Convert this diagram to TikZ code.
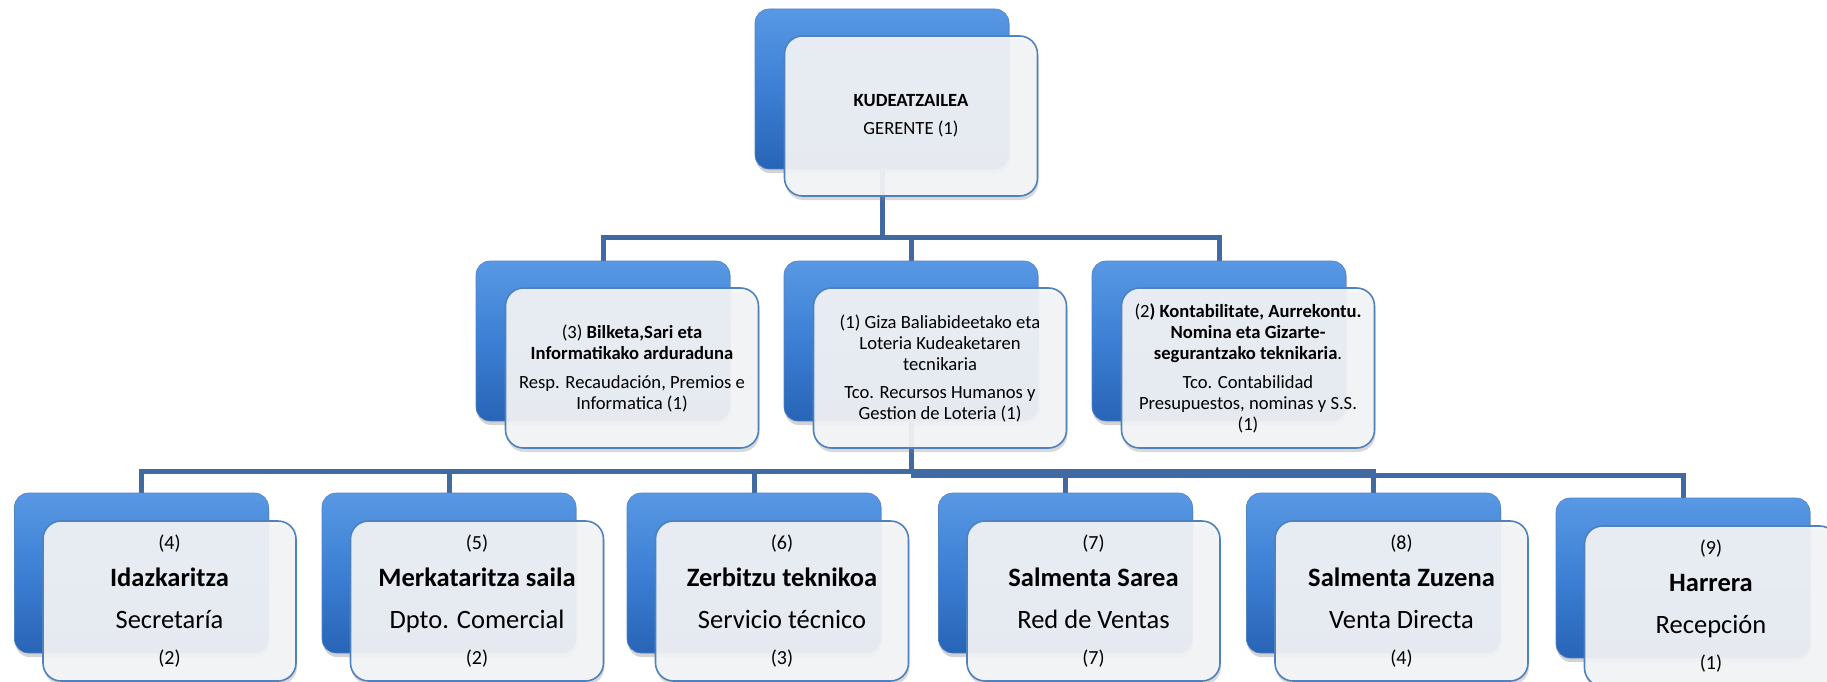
\documentclass[tikz,border=0pt]{standalone}
\usepackage{fontspec}
\setmainfont{Carlito}
\usetikzlibrary{shadows,backgrounds,positioning}

\definecolor{boxblue}{RGB}{60,127,212}
\definecolor{boxbluetop}{RGB}{88,152,228}
\definecolor{boxbluebot}{RGB}{40,100,182}
\definecolor{boxedge}{RGB}{79,129,189}
\definecolor{boxfill}{RGB}{244,245,247}
\definecolor{connblue}{RGB}{66,106,162}

\tikzset{
  back/.style={rectangle, rounded corners=14pt, minimum width=254pt, minimum height=160pt,
    draw=boxbluebot!80, line width=0.6pt, top color=boxbluetop, bottom color=boxbluebot,
    middle color=boxblue, drop shadow={shadow xshift=1pt, shadow yshift=-4pt, opacity=0.35}},
  front/.style={rectangle, rounded corners=18pt, minimum width=253pt, minimum height=160pt,
    draw=boxedge, line width=1.6pt, fill=boxfill, fill opacity=0.92, text opacity=1,
    align=center, font=\fontsize{18.6}{21}\selectfont,
    drop shadow={shadow xshift=1pt, shadow yshift=-4pt, opacity=0.3}},
  unit/.style={front, font=\fontsize{26.5}{30}\selectfont},
  conn/.style={draw=connblue, line width=5pt}
}
\newcommand{\paren}[1]{{\fontsize{20}{24}\selectfont #1}}

\begin{document}
\begin{tikzpicture}[x=1pt, y=-1pt]
  \useasboundingbox (0,0) rectangle (1827,682);
  % Gerente
  \node[back] (gerente-b) at (882,89) {};
  \node[front] (gerente) at ([xshift=29pt,yshift=-27pt]gerente-b.center) {\textbf{KUDEATZAILEA}\\[7pt]GERENTE (1)};
  % Technicians
  \node[back] (bilketa-b) at (603,341) {};
  \node[front] (bilketa) at ([xshift=29pt,yshift=-27pt]bilketa-b.center) {(3) \textbf{Bilketa,Sari eta}\\\textbf{Informatikako arduraduna}\\[8pt]Resp. Recaudación, Premios e\\Informatica (1)};
  \node[back] (giza-b) at (911,341) {};
  \node[front] (giza) at ([xshift=29pt,yshift=-27pt]giza-b.center) {(1) Giza Baliabideetako eta\\Loteria Kudeaketaren\\tecnikaria\\[7pt]Tco. Recursos Humanos y\\Gestion de Loteria (1)};
  \node[back] (konta-b) at (1219,341) {};
  \node[front] (konta) at ([xshift=29pt,yshift=-27pt]konta-b.center) {(2\textbf{) Kontabilitate, Aurrekontu.}\\\textbf{Nomina eta Gizarte-}\\\textbf{segurantzako teknikaria}.\\[8pt]Tco. Contabilidad\\Presupuestos, nominas y S.S.\\(1)};
  % Departments
  \node[back] (idaz-b) at (141.5,573) {};
  \node[unit] (idaz) at ([xshift=28pt,yshift=-28pt]idaz-b.center) {\paren{(4)}\\[7pt]\textbf{Idazkaritza}\\[12pt]Secretaría\\[6pt]\paren{(2)}};
  \node[back] (merka-b) at (449,573) {};
  \node[unit] (merka) at ([xshift=28pt,yshift=-28pt]merka-b.center) {\paren{(5)}\\[7pt]\textbf{Merkataritza saila}\\[12pt]Dpto. Comercial\\[6pt]\paren{(2)}};
  \node[back] (zerb-b) at (754,573) {};
  \node[unit] (zerb) at ([xshift=28pt,yshift=-28pt]zerb-b.center) {\paren{(6)}\\[7pt]\textbf{Zerbitzu teknikoa}\\[12pt]Servicio técnico\\[6pt]\paren{(3)}};
  \node[back] (sarea-b) at (1065.5,573) {};
  \node[unit] (sarea) at ([xshift=28pt,yshift=-28pt]sarea-b.center) {\paren{(7)}\\[7pt]\textbf{Salmenta Sarea}\\[12pt]Red de Ventas\\[6pt]\paren{(7)}};
  \node[back] (zuzena-b) at (1373.5,573) {};
  \node[unit] (zuzena) at ([xshift=28pt,yshift=-28pt]zuzena-b.center) {\paren{(8)}\\[7pt]\textbf{Salmenta Zuzena}\\[12pt]Venta Directa\\[6pt]\paren{(4)}};
  \node[back] (harrera-b) at (1683,578) {};
  \node[unit] (harrera) at ([xshift=28pt,yshift=-28pt]harrera-b.center) {\paren{(9)}\\[7pt]\textbf{Harrera}\\[12pt]Recepción\\[6pt]\paren{(1)}};
  % Connectors
  \begin{scope}[on background layer]
    \coordinate (bus1) at (882,237.5);
    \coordinate (bus2) at (911,471);
    \coordinate (bus3) at (911,475);
    \draw[conn] (gerente-b.center) -- (bus1) -| (bilketa-b.north);
    \draw[conn] (bus1) -| (giza-b.north);
    \draw[conn] (bus1) -| (konta-b.north);
    \draw[conn] (giza-b.center) -- (bus2) -| (idaz-b.north);
    \draw[conn] (bus2) -| (merka-b.north);
    \draw[conn] (bus2) -| (zerb-b.north);
    \draw[conn] (bus2) -| (sarea-b.north);
    \draw[conn] (bus2) -| (zuzena-b.north);
    \draw[conn] (bus3) -| (harrera-b.north);
  \end{scope}
\end{tikzpicture}
\end{document}
